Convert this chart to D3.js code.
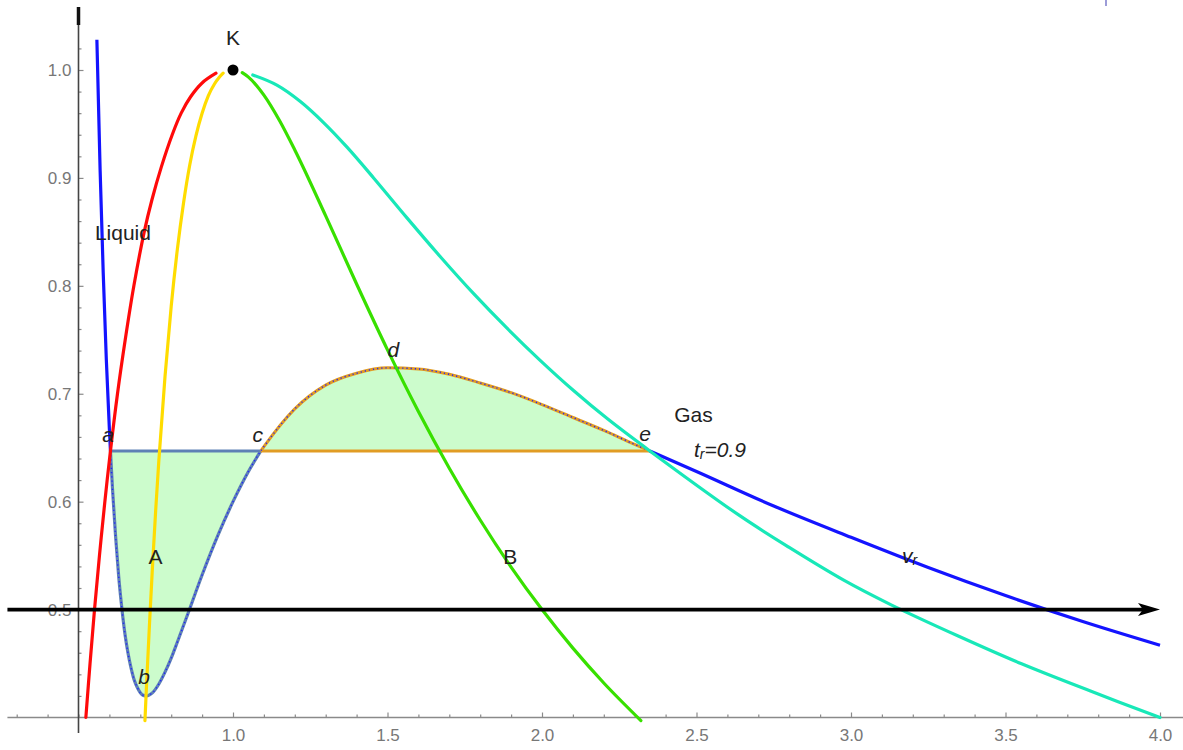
<!DOCTYPE html>
<html>
<head>
<meta charset="utf-8">
<script src="https://cdn.jsdelivr.net/npm/d3@7"></script>
<style>
  html, body { margin: 0; padding: 0; background: #fff; }
  svg { display: block; font-family: "Liberation Sans", Arial, sans-serif; }
</style>
</head>
<body>
<svg id="chart" width="1183" height="750"></svg>
<script>
// ---------- data (reduced van der Waals diagram) ----------
// isotherm t_r = 0.9
const isoV = [0.5595,0.57,0.58,0.59,0.60,0.6034,0.61,0.62,0.63,0.64,0.65,0.66,0.67,0.68,0.69,0.70,0.71,0.72,0.73,0.74,0.76,0.78,0.80,0.82,0.85,0.90,0.95,1.00,1.05,1.09,1.10,1.2,1.3,1.4,1.5,1.6,1.7,1.8,1.9,2.0,2.1,2.2,2.3,2.349,2.5,2.75,3.0,3.25,3.5,3.75,4.0];
const isoP = [1.028,0.907,0.812,0.732,0.667,0.647,0.612,0.568,0.531,0.502,0.478,0.460,0.446,0.435,0.428,0.423,0.4205,0.420,0.421,0.423,0.431,0.442,0.455,0.470,0.493,0.532,0.568,0.600,0.628,0.647,0.651,0.686,0.708,0.719,0.724,0.723,0.718,0.710,0.701,0.690,0.678,0.666,0.653,0.647,0.628,0.596,0.567,0.539,0.513,0.489,0.467];
// coexistence (Maxwell) points a, c, e
const pSat = 0.647;
const vA = 0.6034, vC = 1.09, vE = 2.349;
// binodal, liquid branch (red)
const redV = [0.5238,0.5373,0.5518,0.5678,0.5853,0.6034,0.6262,0.6512,0.6792,0.7127,0.7379,0.7679,0.8033,0.8323,0.8623,0.900,0.945];
const redP = [0.400,0.450,0.500,0.550,0.600,0.647,0.700,0.750,0.800,0.850,0.880,0.910,0.940,0.960,0.975,0.988,0.997];
// binodal, gas branch (cyan)
const cyanV = [1.064,1.142,1.218,1.293,1.369,1.455,1.563,1.671,1.778,1.886,1.994,2.102,2.213,2.349,2.64,2.80,2.975,3.13,3.347,3.55,3.775,4.0];
const cyanP = [0.9954,0.986,0.9708,0.9513,0.9285,0.900,0.863,0.827,0.793,0.761,0.731,0.703,0.6765,0.647,0.587,0.5576,0.5275,0.5044,0.4755,0.450,0.4245,0.400];
// spinodal, liquid branch (yellow, A)
const yelV = [0.715,0.72,0.73,0.74,0.75,0.76,0.78,0.80,0.82,0.84,0.86,0.88,0.90,0.92,0.94,0.955,0.968];
const yelP = [0.397,0.429,0.488,0.543,0.593,0.638,0.716,0.781,0.834,0.877,0.912,0.939,0.960,0.976,0.987,0.993,0.997];
// spinodal, gas branch (green, B)
const grnV = [1.03,1.05,1.1,1.15,1.2,1.3,1.4,1.5,1.6,1.7,1.8,1.9,2.0,2.1,2.2,2.32];
const grnP = [0.9975,0.9934,0.9767,0.9534,0.9259,0.8648,0.8017,0.7407,0.6836,0.6310,0.5830,0.5394,0.5,0.4643,0.4320,0.3972];
// critical point
const critV = [1.0], critP = [1.0];
// horizontal arrow at p = 0.5
const arrowV = [0.27, 4.0], arrowP = [0.5, 0.5];
// ticks
const xMajorTicks = [1.0,1.5,2.0,2.5,3.0,3.5,4.0];
const xTickLabels = ["1.0","1.5","2.0","2.5","3.0","3.5","4.0"];
const yMajorTicks = [0.5,0.6,0.7,0.8,0.9,1.0];
const yTickLabels = ["0.5","0.6","0.7","0.8","0.9","1.0"];
// annotations
const labelText = ["K","Liquid","Gas","A","B"];
const labelV = [1.0, 0.553, 2.428, 0.749, 1.897];
const labelP = [1.030, 0.849, 0.681, 0.549, 0.549];
const italicText = ["a","b","c","d","e"];
const italicV = [0.596, 0.712, 1.08, 1.519, 2.334];
const italicP = [0.662, 0.438, 0.662, 0.741, 0.663];

// ---------- scales ----------
const svg = d3.select("#chart");
const x = d3.scaleLinear().domain([0.5, 4.0]).range([78.5, 1160]);
const y = d3.scaleLinear().domain([0.4, 1.0]).range([717.5, 70]);

const pts = (vs, ps) => vs.map((v, i) => [v, ps[i]]);
const line = d3.line().x(d => x(d[0])).y(d => y(d[1])).curve(d3.curveMonotoneX);
const smooth = d3.line().x(d => x(d[0])).y(d => y(d[1])).curve(d3.curveCatmullRom.alpha(0.5));

const iso = pts(isoV, isoP);
const isoLeft = iso.filter(d => d[0] <= vA);
const loop1 = iso.filter(d => d[0] >= vA && d[0] <= vC);
const loop2 = iso.filter(d => d[0] >= vC && d[0] <= vE);
const isoRight = iso.filter(d => d[0] >= vE);

// ---------- axes ----------
const axisG = svg.append("g");
axisG.append("line")
  .attr("x1", x(0.27)).attr("x2", 1183)
  .attr("y1", y(0.4)).attr("y2", y(0.4))
  .attr("stroke", "#8a8a8a").attr("stroke-width", 1.3);
const xMinor = d3.range(3, 41).map(k => k / 10).filter(v => !xMajorTicks.some(m => Math.abs(m - v) < 1e-6));
const xAxisMinor = d3.axisBottom(x).tickValues(xMinor).tickSize(-3).tickFormat("");
const xAxisMajor = d3.axisBottom(x).tickValues(xMajorTicks).tickSize(-5).tickPadding(11)
  .tickFormat((d, i) => xTickLabels[i]);
[xAxisMinor, xAxisMajor].forEach(ax => {
  const g = axisG.append("g").attr("transform", `translate(0,${y(0.4)})`).call(ax);
  g.select(".domain").remove();
  g.selectAll("line").attr("stroke", "#8a8a8a").attr("stroke-width", 1.2);
  g.selectAll("text").attr("fill", "#777").attr("font-size", 17)
    .attr("font-family", "Liberation Sans, Arial, sans-serif");
});
const yMinor = d3.range(21, 52).map(k => k / 50).filter(v => !yMajorTicks.some(m => Math.abs(m - v) < 1e-6) && Math.abs(v - 0.4) > 1e-6);
const yAxisMinor = d3.axisLeft(y).tickValues(yMinor).tickSize(-3).tickFormat("");
const yAxisMajor = d3.axisLeft(y).tickValues(yMajorTicks).tickSize(-5).tickPadding(7)
  .tickFormat((d, i) => yTickLabels[i]);
[yAxisMinor, yAxisMajor].forEach(ax => {
  const g = axisG.append("g").attr("transform", `translate(${x(0.5)},0)`).call(ax);
  g.select(".domain").remove();
  g.selectAll("line").attr("stroke", "#8a8a8a").attr("stroke-width", 1.2);
  g.selectAll("text").attr("fill", "#777").attr("font-size", 17)
    .attr("font-family", "Liberation Sans, Arial, sans-serif");
});
axisG.append("line")
  .attr("x1", x(0.5)).attr("x2", x(0.5))
  .attr("y1", 7).attr("y2", 733)
  .attr("stroke", "#444").attr("stroke-width", 1.6);
axisG.append("line")
  .attr("x1", x(0.5)).attr("x2", x(0.5))
  .attr("y1", 7).attr("y2", 25)
  .attr("stroke", "#111").attr("stroke-width", 3.5);
svg.append("line").attr("x1", 1106).attr("x2", 1106).attr("y1", 0).attr("y2", 6)
  .attr("stroke", "#9c9cd8").attr("stroke-width", 2);

// ---------- Maxwell areas ----------
const lineLin = d3.line().x(d => x(d[0])).y(d => y(d[1]));
svg.append("path").attr("d", line(loop1) + "L" + x(vA) + "," + y(pSat) + "Z")
  .attr("fill", "#ccfccc").attr("stroke", "none");
svg.append("path").attr("d", line(loop2) + "L" + x(vC) + "," + y(pSat) + "Z")
  .attr("fill", "#ccfccc").attr("stroke", "none");
svg.append("path").attr("d", line(loop1)).attr("fill", "none")
  .attr("stroke", "#5e81b5").attr("stroke-width", 3.2);
svg.append("path").attr("d", lineLin([[vA, pSat], [vC, pSat]])).attr("fill", "none")
  .attr("stroke", "#5e81b5").attr("stroke-width", 3);
svg.append("path").attr("d", line(loop2)).attr("fill", "none")
  .attr("stroke", "#e19c24").attr("stroke-width", 3);
svg.append("path").attr("d", lineLin([[vC, pSat], [vE, pSat]])).attr("fill", "none")
  .attr("stroke", "#e19c24").attr("stroke-width", 3);
svg.append("path").attr("d", line(loop1.concat(loop2.slice(1)))).attr("fill", "none")
  .attr("stroke", "#2020ff").attr("stroke-width", 1.4).attr("stroke-dasharray", "1.2,3");

// ---------- isotherm outer parts ----------
[isoLeft, isoRight].forEach(seg => {
  svg.append("path").attr("d", line(seg)).attr("fill", "none")
    .attr("stroke", "#1414ff").attr("stroke-width", 3.2);
});

// ---------- binodal & spinodal ----------
const curves = [
  [pts(redV, redP), "#ff0a0a", smooth],
  [pts(yelV, yelP), "#ffdc00", line],
  [pts(grnV, grnP), "#38e000", line],
  [pts(cyanV, cyanP), "#18e8b8", smooth]
];
curves.forEach(([data, col, gen]) => {
  svg.append("path").attr("d", gen(data)).attr("fill", "none")
    .attr("stroke", col).attr("stroke-width", 3.2).attr("stroke-linecap", "round");
});

// ---------- arrow at p = 0.5 ----------
const ax0 = x(arrowV[0]), ax1 = x(arrowV[1]), ay = y(arrowP[0]);
svg.append("line").attr("x1", ax0).attr("x2", ax1 - 14).attr("y1", ay).attr("y2", ay)
  .attr("stroke", "#000").attr("stroke-width", 3.6);
svg.append("path")
  .attr("d", `M${ax1},${ay} L${ax1 - 22},${ay - 6.5} L${ax1 - 17},${ay} L${ax1 - 22},${ay + 6.5} Z`)
  .attr("fill", "#000");

// ---------- critical point ----------
svg.append("circle").attr("cx", x(critV[0])).attr("cy", y(critP[0])).attr("r", 5.5).attr("fill", "#000");

// ---------- labels ----------
labelText.forEach((t, i) => {
  svg.append("text").attr("x", x(labelV[i])).attr("y", y(labelP[i]))
    .attr("text-anchor", (t === "Liquid" || t === "Gas") ? "start" : "middle")
    .attr("dominant-baseline", "central")
    .attr("font-size", 21).attr("fill", "#222").text(t);
});
italicText.forEach((t, i) => {
  svg.append("text").attr("x", x(italicV[i])).attr("y", y(italicP[i]))
    .attr("text-anchor", "middle").attr("dominant-baseline", "central")
    .attr("font-size", 21).attr("font-style", "italic").attr("fill", "#222").text(t);
});
const tr = svg.append("text").attr("x", x(2.492)).attr("y", y(0.649))
  .attr("dominant-baseline", "central").attr("font-size", 21)
  .attr("font-style", "italic").attr("fill", "#222");
tr.append("tspan").text("t");
tr.append("tspan").attr("font-size", 14).attr("dy", 5).text("r");
tr.append("tspan").attr("dy", -5).text("=0.9");
const vr = svg.append("text").attr("x", x(3.165)).attr("y", y(0.551))
  .attr("dominant-baseline", "central").attr("font-size", 21)
  .attr("font-style", "italic").attr("fill", "#222");
vr.append("tspan").text("v");
vr.append("tspan").attr("font-size", 14).attr("dy", 5).text("r");
</script>
</body>
</html>
